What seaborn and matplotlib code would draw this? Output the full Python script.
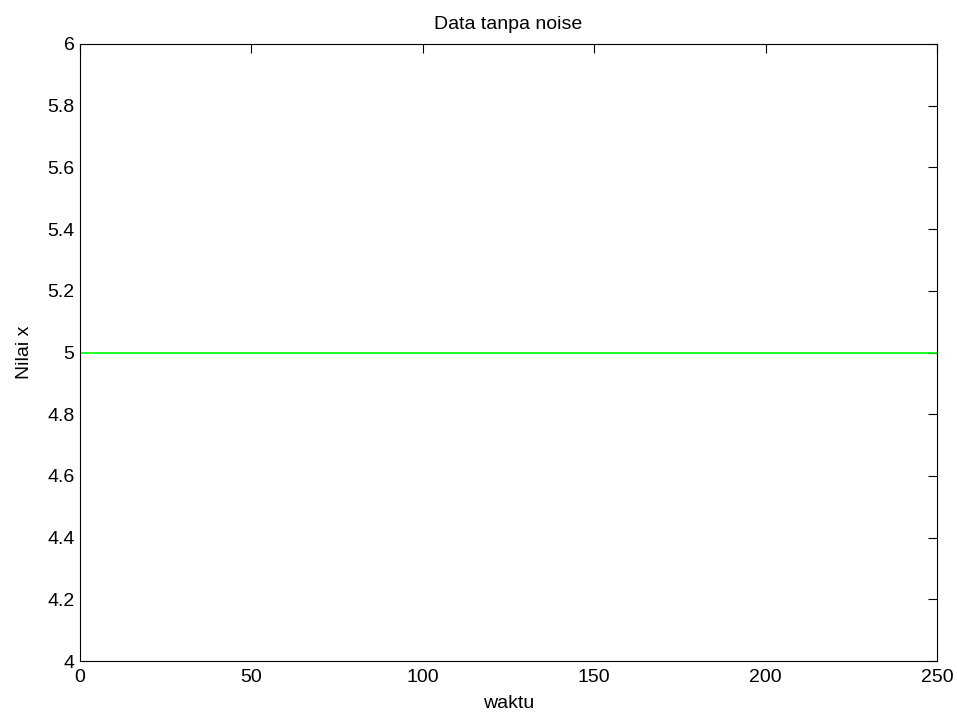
import numpy as np
import pandas as pd
import seaborn as sns
import matplotlib
matplotlib.use("Agg")
import matplotlib.pyplot as plt

# Data
waktu = np.arange(0, 251)
nilai_x = np.full(waktu.shape, 5.0)

x_ticks = [0, 50, 100, 150, 200, 250]
y_ticks = [4, 4.2, 4.4, 4.6, 4.8, 5, 5.2, 5.4, 5.6, 5.8, 6]
y_tick_labels = ["4", "4.2", "4.4", "4.6", "4.8", "5", "5.2", "5.4", "5.6", "5.8", "6"]

df = pd.DataFrame({"waktu": waktu, "nilai": nilai_x})

sns.set_style("white")
plt.rcParams["font.family"] = ["Liberation Sans", "DejaVu Sans"]
plt.rcParams["font.size"] = 14

fig = plt.figure(figsize=(9.57, 7.2), dpi=100)
ax = fig.add_axes([80 / 957, 1 - 661 / 720, (937 - 80) / 957, (661 - 44) / 720])

sns.lineplot(data=df, x="waktu", y="nilai", ax=ax, color="#00ff00", linewidth=1.2)

ax.set_xlim(0, 250)
ax.set_ylim(4, 6)
ax.set_xticks(x_ticks)
ax.set_xticklabels([str(t) for t in x_ticks])
ax.set_yticks(y_ticks)
ax.set_yticklabels(y_tick_labels)

ax.tick_params(direction="in", length=6.5, width=0.8, color="black",
               top=True, right=True, labelsize=14, labelcolor="black")
ax.tick_params(axis="x", pad=6)
ax.tick_params(axis="y", pad=4)
for s in ax.spines.values():
    s.set_visible(True)
    s.set_color("black")
    s.set_linewidth(0.8)

ax.set_title("Data tanpa noise", fontsize=14, pad=11, color="black")
ax.set_xlabel("waktu", fontsize=14, labelpad=6, color="black")
ax.set_ylabel("Nilai x", fontsize=14, labelpad=10, color="black")

fig.savefig("out.png", dpi=100, facecolor="white")
